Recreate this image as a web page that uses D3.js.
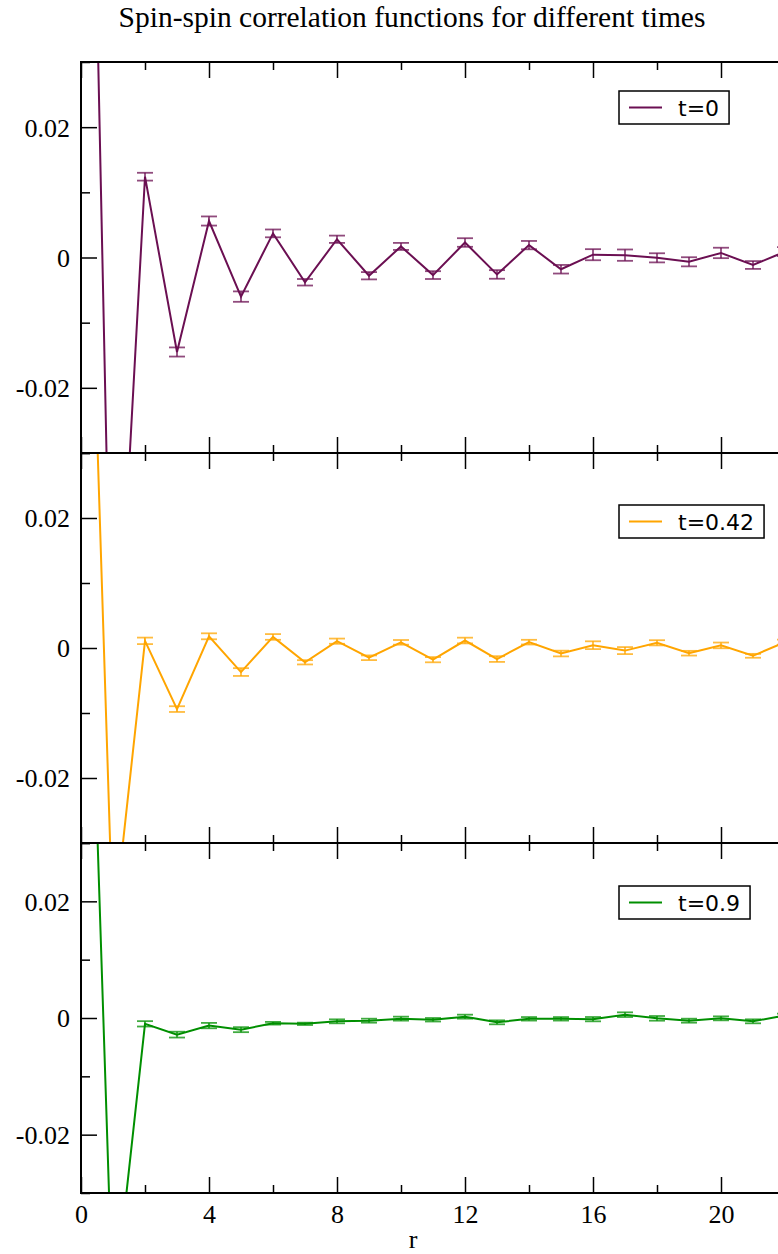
<!DOCTYPE html>
<html>
<head>
<meta charset="utf-8">
<script src="https://cdn.jsdelivr.net/npm/d3@7"></script>
<style>
  body { margin: 0; background: #ffffff; }
  svg { display: block; }
</style>
</head>
<body>
<script>
// Lattice distance r
const distances = d3.range(0, 23);

// Series labels and colours
const seriesLabels = ["t=0", "t=0.42", "t=0.9"];
const seriesColors = ["#6b0f52", "#ffa500", "#008f00"];

// <S(0) S(r)> at t = 0
const corrT0 = [0.155, -0.077, 0.0124, -0.0145, 0.0056, -0.0060, 0.0037, -0.0038, 0.0028, -0.0028,
  0.0017, -0.0027, 0.0023, -0.0026, 0.0019, -0.0018, 0.00043, 0.00036, -0.00005, -0.00066,
  0.0007, -0.00115, 0.0009];
const errT0 = [0.001, 0.001, 0.0006, 0.0007, 0.0007, 0.0008, 0.0006, 0.0005, 0.00056, 0.00056,
  0.00054, 0.0006, 0.00066, 0.00066, 0.00064, 0.00066, 0.00085, 0.00087, 0.0007, 0.0007,
  0.0008, 0.0006, 0.0007];

// <S(0) S(r)> at t = 0.42
const corrT042 = [0.111, -0.044, 0.0011, -0.0094, 0.0018, -0.0037, 0.0017, -0.0022, 0.00105, -0.0015,
  0.00087, -0.0018, 0.00115, -0.0017, 0.0009, -0.00085, 0.00043, -0.0004, 0.0008, -0.0008,
  0.0004, -0.0012, 0.0009];
const errT042 = [0.001, 0.001, 0.0005, 0.00044, 0.00046, 0.0006, 0.00044, 0.00033, 0.0004, 0.00036,
  0.00036, 0.0004, 0.00044, 0.00044, 0.00036, 0.00044, 0.0006, 0.00054, 0.0004, 0.00036,
  0.00044, 0.0003, 0.0004];

// <S(0) S(r)> at t = 0.9
const corrT09 = [0.118, -0.051, -0.001, -0.00285, -0.0013, -0.002, -0.0009, -0.001, -0.00057, -0.00046,
  -0.00011, -0.0003, 0.00023, -0.00074, -0.00014, -0.00014, -0.0002, 0.00057, -0.00006, -0.00046,
  -0.00006, -0.00057, 0.00044];
const errT09 = [0.001, 0.001, 0.00046, 0.0005, 0.00046, 0.00043, 0.00023, 0.0002, 0.00034, 0.00034,
  0.00034, 0.0003, 0.00034, 0.00034, 0.0003, 0.0003, 0.00037, 0.0004, 0.0004, 0.00034,
  0.00034, 0.00034, 0.0003];

// Axis ticks
const yMajorTicks = [-0.02, 0, 0.02];
const yMinorTicks = [-0.03, -0.01, 0.01, 0.03];
const xMajorTicks = [0, 4, 8, 12, 16, 20, 24];
const xMinorTicks = [2, 6, 10, 14, 18, 22];
const xTickLabels = [0, 4, 8, 12, 16, 20];

const seriesValues = [corrT0, corrT042, corrT09];
const seriesErrors = [errT0, errT042, errT09];

const W = 778, H = 1254;
const plotLeft = 81, plotRight = 849;
const panels = [
  { top: 62, bottom: 453, legendTop: 91 },
  { top: 453, bottom: 843, legendTop: 505 },
  { top: 843, bottom: 1193, legendTop: 886 }
];

const svg = d3.select("body").append("svg")
  .attr("width", W).attr("height", H)
  .attr("viewBox", `0 0 ${W} ${H}`);

const serif = "'Liberation Serif', 'DejaVu Serif', serif";
const sans = "'DejaVu Sans', sans-serif";

// Title
svg.append("text")
  .attr("x", 412).attr("y", 27)
  .attr("text-anchor", "middle")
  .style("font-family", serif)
  .style("font-size", "29.5px")
  .text("Spin-spin correlation functions for different times");

const x = d3.scaleLinear().domain([0, 24]).range([plotLeft, plotRight]);

panels.forEach((p, i) => {
  const y = d3.scaleLinear().domain([-0.03, 0.03]).range([p.bottom, p.top]);
  const g = svg.append("g");
  const color = seriesColors[i];

  const clipId = "clip" + i;
  svg.append("clipPath").attr("id", clipId)
    .append("rect")
    .attr("x", plotLeft).attr("y", p.top)
    .attr("width", plotRight - plotLeft).attr("height", p.bottom - p.top);

  const data = distances.map((r, k) => ({ r, v: seriesValues[i][k], e: seriesErrors[i][k] }));

  const plot = g.append("g").attr("clip-path", `url(#${clipId})`);

  // Error bars
  const eb = plot.append("g")
    .attr("stroke", color)
    .attr("stroke-opacity", 0.75)
    .attr("stroke-width", 1.8);
  data.forEach(d => {
    const cx = x(d.r);
    eb.append("line").attr("x1", cx).attr("x2", cx).attr("y1", y(d.v - d.e)).attr("y2", y(d.v + d.e));
    eb.append("line").attr("x1", cx - 8).attr("x2", cx + 8).attr("y1", y(d.v - d.e)).attr("y2", y(d.v - d.e));
    eb.append("line").attr("x1", cx - 8).attr("x2", cx + 8).attr("y1", y(d.v + d.e)).attr("y2", y(d.v + d.e));
  });

  // Correlation curve
  plot.append("path")
    .datum(data)
    .attr("fill", "none")
    .attr("stroke", color)
    .attr("stroke-width", 2)
    .attr("stroke-linejoin", "miter")
    .attr("d", d3.line().x(d => x(d.r)).y(d => y(d.v)));

  // Left axis: labelled major ticks and minor ticks, pointing inward
  const yAxis = g.append("g").attr("transform", `translate(${plotLeft},0)`)
    .call(d3.axisLeft(y).tickValues(yMajorTicks).tickSize(-16).tickPadding(11)
      .tickFormat(d => d === 0 ? "0" : d.toFixed(2)));
  yAxis.select(".domain").remove();
  yAxis.selectAll("text").style("font-family", serif).style("font-size", "26px").attr("dy", "0.34em");
  yAxis.selectAll(".tick line").attr("stroke-width", 1.5);
  const yMinor = g.append("g").attr("transform", `translate(${plotLeft},0)`)
    .call(d3.axisLeft(y).tickValues(yMinorTicks).tickSize(-9).tickFormat(""));
  yMinor.select(".domain").remove();
  yMinor.selectAll(".tick line").attr("stroke-width", 1.5);

  // Top and bottom axes, ticks pointing inward
  [[p.top, 1], [p.bottom, -1]].forEach(([yy, dir]) => {
    const maj = g.append("g").attr("transform", `translate(0,${yy})`)
      .call(d3.axisBottom(x).tickValues(xMajorTicks).tickSize(16 * dir).tickFormat(""));
    maj.select(".domain").remove();
    maj.selectAll(".tick line").attr("stroke-width", 1.5);
    const mn = g.append("g").attr("transform", `translate(0,${yy})`)
      .call(d3.axisBottom(x).tickValues(xMinorTicks).tickSize(8 * dir).tickFormat(""));
    mn.select(".domain").remove();
    mn.selectAll(".tick line").attr("stroke-width", 1.5);
  });

  // Frame
  g.append("rect")
    .attr("x", plotLeft).attr("y", p.top)
    .attr("width", plotRight - plotLeft).attr("height", p.bottom - p.top)
    .attr("fill", "none").attr("stroke", "#000").attr("stroke-width", 2);

  // Legend
  const lg = g.append("g");
  const box = lg.append("rect")
    .attr("x", 619).attr("y", p.legendTop).attr("height", 33)
    .attr("fill", "#fff").attr("stroke", "#000").attr("stroke-width", 1.5);
  lg.append("line")
    .attr("x1", 629).attr("x2", 662)
    .attr("y1", p.legendTop + 16.5).attr("y2", p.legendTop + 16.5)
    .attr("stroke", color).attr("stroke-width", 2);
  const label = lg.append("text")
    .attr("x", 678).attr("y", p.legendTop + 25)
    .style("font-family", sans)
    .style("font-size", "22px")
    .text(seriesLabels[i]);
  const tw = label.node().getComputedTextLength();
  box.attr("width", 678 + tw + 10 - 619);
});

// Bottom axis labels
const xLabels = svg.append("g").attr("transform", `translate(0,${panels[2].bottom})`)
  .call(d3.axisBottom(x).tickValues(xTickLabels).tickSize(0).tickPadding(12).tickFormat(d3.format("d")));
xLabels.select(".domain").remove();
xLabels.selectAll("text").style("font-family", serif).style("font-size", "26px").attr("fill", "#000");

svg.append("text")
  .attr("x", 413).attr("y", 1248)
  .attr("text-anchor", "middle")
  .style("font-family", serif)
  .style("font-size", "26px")
  .text("r");
</script>
</body>
</html>
